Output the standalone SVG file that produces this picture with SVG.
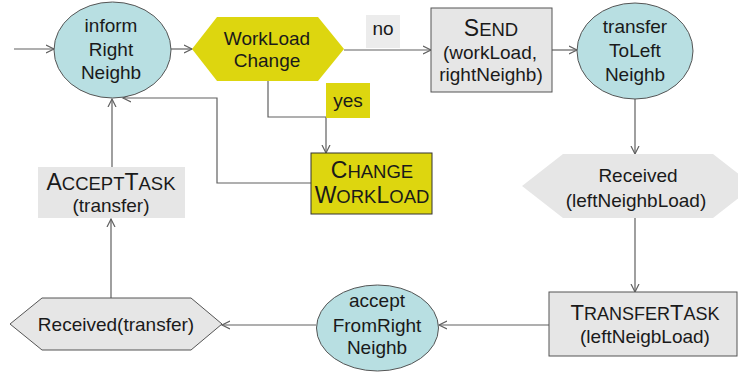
<svg xmlns="http://www.w3.org/2000/svg" width="738" height="374" viewBox="0 0 738 374">
<style>
text{font-family:"Liberation Sans",Arial,sans-serif;font-size:19px;fill:#1a1a1a;text-anchor:middle}
.ell{fill:#b8dfe2;stroke:#555;stroke-width:1}
.yel{fill:#ddd60f}
.yelbox{fill:#ddd60f;stroke:#333;stroke-width:1}
.gbox{fill:#e6e6e6;stroke:#555;stroke-width:1}
.gfill{fill:#e6e6e6}
.lbl{fill:#ececec}
.con path{fill:none;stroke:#606060;stroke-width:1.2}
.big{font-size:23px}
.sm{font-size:18.5px}
.big2{font-size:22px}
.sm2{font-size:18px}
</style>
<defs>
<marker id="arr" markerUnits="userSpaceOnUse" markerWidth="10" markerHeight="10" refX="8" refY="4" orient="auto" viewBox="0 0 10 8">
<path d="M0,0 L8,4 L0,8" fill="none" stroke="#606060" stroke-width="1.2"/>
</marker>
</defs>

<g class="con">
<path d="M14,49 H54" marker-end="url(#arr)"/>
<path d="M171,49 H192" marker-end="url(#arr)"/>
<path d="M344,50 H431" marker-end="url(#arr)"/>
<path d="M552,50 H577" marker-end="url(#arr)"/>
<path d="M635,99 V154" marker-end="url(#arr)"/>
<path d="M635,218 V292" marker-end="url(#arr)"/>
<path d="M549,325 H439" marker-end="url(#arr)"/>
<path d="M316,325 H222" marker-end="url(#arr)"/>
<path d="M111,298 V219" marker-end="url(#arr)"/>
<path d="M112,167 V99" marker-end="url(#arr)"/>
<path d="M268,81 V117 H326 V153" marker-end="url(#arr)"/>
<path d="M311,183 H217 V98 H123" marker-end="url(#arr)"/>
</g>

<g id="lbl-no">
<rect class="lbl" x="366" y="15" width="34" height="33"/>
<text x="383" y="35">no</text>
</g>
<g id="lbl-yes">
<rect class="yel" x="326" y="83" width="44" height="35"/>
<text x="348" y="107">yes</text>
</g>

<g id="informRightNeighb">
<ellipse class="ell" cx="112.5" cy="50" rx="58.5" ry="48"/>
<text x="111" y="32">inform</text>
<text x="111" y="56">Right</text>
<text x="111" y="79">Neighb</text>
</g>

<g id="workloadChange">
<polygon class="yel" points="192,49 217,17 318,17 344,49 318,81 217,81"/>
<text x="267" y="45">WorkLoad</text>
<text x="267" y="67">Change</text>
</g>

<g id="send">
<rect class="gbox" x="431" y="8" width="121" height="84"/>
<text x="491" y="36"><tspan class="big">S</tspan><tspan class="sm">END</tspan></text>
<text x="490" y="59">(workLoad,</text>
<text x="491" y="81">rightNeighb)</text>
</g>

<g id="transferToLeftNeighb">
<ellipse class="ell" cx="635" cy="51" rx="58" ry="48"/>
<text x="635" y="33">transfer</text>
<text x="635" y="57">ToLeft</text>
<text x="635" y="81">Neighb</text>
</g>

<g id="receivedLeftNeighbLoad">
<polygon class="gfill" points="522,186 563,154 713,154 754,186 713,218 563,218"/>
<text x="638" y="182">Received</text>
<text x="636" y="207">(leftNeighbLoad)</text>
</g>

<g id="transferTask">
<rect class="gbox" x="549" y="292" width="188" height="64"/>
<text x="645" y="320"><tspan class="big2">T</tspan><tspan class="sm2">RANSFER</tspan><tspan class="big2">T</tspan><tspan class="sm2">ASK</tspan></text>
<text x="645" y="343">(leftNeigbLoad)</text>
</g>

<g id="acceptFromRightNeighb">
<ellipse class="ell" cx="377.5" cy="328" rx="61" ry="43"/>
<text x="377" y="307">accept</text>
<text x="377" y="332">FromRight</text>
<text x="377" y="354">Neighb</text>
</g>

<g id="receivedTransfer">
<polygon class="gbox" points="10,324 42,298 191,298 222,324 191,350 42,350"/>
<text x="116" y="331">Received(transfer)</text>
</g>

<g id="acceptTask">
<rect class="gfill" x="38" y="167" width="147" height="51"/>
<text x="111" y="190"><tspan class="big">A</tspan><tspan class="sm">CCEPT</tspan><tspan class="big">T</tspan><tspan class="sm">ASK</tspan></text>
<text x="111" y="212">(transfer)</text>
</g>

<g id="changeWorkload">
<rect class="yelbox" x="311" y="153" width="121" height="61"/>
<text x="372" y="178"><tspan class="big">C</tspan><tspan class="sm">HANGE</tspan></text>
<text x="372" y="203"><tspan class="big">W</tspan><tspan class="sm">ORK</tspan><tspan class="big">L</tspan><tspan class="sm">OAD</tspan></text>
</g>
</svg>
